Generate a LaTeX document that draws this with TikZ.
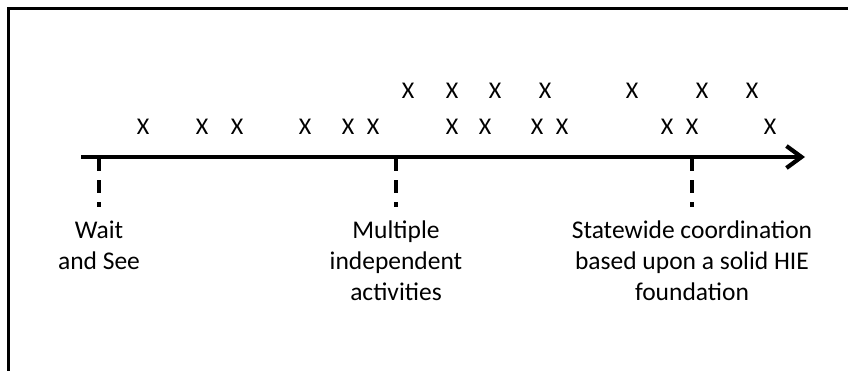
\documentclass[tikz,border=0pt]{standalone}
\usepackage{fontspec}
\setmainfont{Carlito}
\usepackage{tikz}
\usetikzlibrary{arrows.meta}
\tikzstyle{frameline} = [line width=3pt]
\tikzstyle{arrow} = [line width=4.2pt, -{Straight Barb[length=15pt, width=22pt]}]
\tikzstyle{tickline} = [line width=3.5pt, dash pattern=on 13pt off 9pt]
\tikzstyle{cross} = [inner sep=0pt, font=\fontsize{24}{28}\selectfont]
\tikzstyle{stage} = [inner sep=0pt, anchor=north, align=center, font=\fontsize{25.5}{31}\selectfont]

\begin{document}
\begin{tikzpicture}[x=1pt, y=-1pt]
		\useasboundingbox (0,0) rectangle (848,370);
		%外框
		\coordinate (corner) at (8,8);
		\coordinate (topright) at (850,8);
		\coordinate (bottomleft) at (8,372);
		\draw [frameline] (topright) -- (corner) -- (bottomleft);
		%时间轴
		\coordinate (start) at (81,157);
		\coordinate (end) at (805,157);
		\draw [arrow] (start) -- (end);
		%三个阶段
		\node[stage] (wait) at (99,221) {Wait\\and See};
		\node[stage] (multi) at (396,221) {Multiple\\independent\\activities};
		\node[stage] (state) at (692,221) {Statewide coordination\\based upon a solid HIE\\foundation};
		\coordinate (t1) at (99,158);
		\coordinate (t2) at (396,158);
		\coordinate (t3) at (692,158);
		\coordinate (e1) at (99,207);
		\coordinate (e2) at (396,207);
		\coordinate (e3) at (692,207);
		\draw [tickline] (t1) -- (e1);
		\draw [tickline] (t2) -- (e2);
		\draw [tickline] (t3) -- (e3);
		%下排
		\node[cross] (a1) at (143,127) {X};
		\node[cross] (a2) at (202,127) {X};
		\node[cross] (a3) at (237,127) {X};
		\node[cross] (a4) at (305,127) {X};
		\node[cross] (a5) at (348,127) {X};
		\node[cross] (a6) at (373,127) {X};
		\node[cross] (a7) at (452,127) {X};
		\node[cross] (a8) at (485,127) {X};
		\node[cross] (a9) at (537,127) {X};
		\node[cross] (a10) at (562,127) {X};
		\node[cross] (a11) at (667,127) {X};
		\node[cross] (a12) at (692,127) {X};
		\node[cross] (a13) at (770,127) {X};
		%上排
		\node[cross] (b1) at (408,91) {X};
		\node[cross] (b2) at (452,91) {X};
		\node[cross] (b3) at (495,91) {X};
		\node[cross] (b4) at (545,91) {X};
		\node[cross] (b5) at (632,91) {X};
		\node[cross] (b6) at (702,91) {X};
		\node[cross] (b7) at (752,91) {X};

	\end{tikzpicture}
\end{document}
